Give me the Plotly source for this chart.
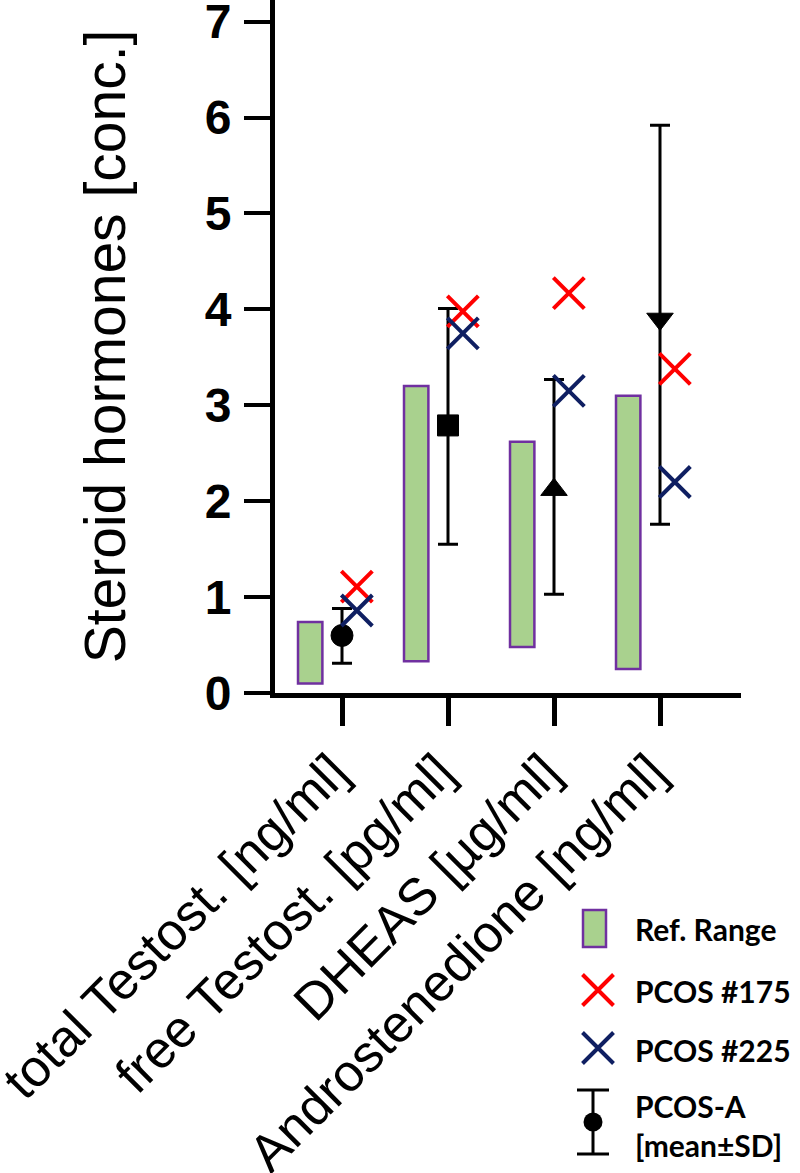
import plotly.graph_objects as go

categories = ["total Testost. [ng/ml]", "free Testost. [pg/ml]", "DHEAS [µg/ml]", "Androstenedione [ng/ml]"]
ref_low = [0.10, 0.33, 0.48, 0.25]
ref_high = [0.74, 3.20, 2.62, 3.10]
pcos_175 = [1.11, 3.98, 4.17, 3.38]
pcos_225 = [0.86, 3.75, 3.15, 2.20]
pcos_a_mean = [0.60, 2.79, 2.12, 3.90]
pcos_a_sd_high = [0.88, 4.01, 3.27, 5.92]
pcos_a_sd_low = [0.31, 1.55, 1.03, 1.76]
y_ticks = [0, 1, 2, 3, 4, 5, 6, 7]

legend_labels = ["Ref. Range", "PCOS #175", "PCOS #225", "PCOS-A<br>[mean±SD]"]

GREEN = "#a9d18e"
PURPLE = "#7030a0"
RED = "#ff0000"
NAVY = "#0f1f62"
MAIN_FONT = "Liberation Sans, Arial, sans-serif"
LEG_FONT = "Lato, Carlito, sans-serif"

W, H = 800, 1173
xpos = list(range(len(categories)))

fig = go.Figure()

# reference range bars
fig.add_trace(go.Bar(
    x=[p - 0.30 for p in xpos],
    base=ref_low,
    y=[h - l for h, l in zip(ref_high, ref_low)],
    width=0.23,
    marker=dict(color=GREEN, line=dict(color=PURPLE, width=2.5)),
    hoverinfo="skip",
))

# PCOS-A mean ± SD
fig.add_trace(go.Scatter(
    x=xpos,
    y=pcos_a_mean,
    mode="markers",
    marker=dict(symbol=["circle", "square", "triangle-up", "triangle-down"],
                size=[22, 21, 23, 23], color="black", opacity=1,
                line=dict(color="black", width=1)),
    error_y=dict(type="data", symmetric=False,
                 array=[h - m for h, m in zip(pcos_a_sd_high, pcos_a_mean)],
                 arrayminus=[m - l for m, l in zip(pcos_a_mean, pcos_a_sd_low)],
                 color="black", thickness=3, width=10),
))

# individual patients
fig.add_trace(go.Scatter(
    x=[p + 0.14 for p in xpos], y=pcos_175, mode="markers",
    marker=dict(symbol="x-thin", size=31, line=dict(color=RED, width=4)),
))
fig.add_trace(go.Scatter(
    x=[p + 0.14 for p in xpos], y=pcos_225, mode="markers",
    marker=dict(symbol="x-thin", size=31, line=dict(color=NAVY, width=4)),
))

# ---- custom legend on an auxiliary pixel-like axis ----
fig.add_trace(go.Bar(
    x=[594.5], base=[910], y=[37], width=23,
    marker=dict(color=GREEN, line=dict(color=PURPLE, width=2.5)),
    xaxis="x2", yaxis="y2", hoverinfo="skip",
))
fig.add_trace(go.Scatter(
    x=[598], y=[990], mode="markers", xaxis="x2", yaxis="y2",
    marker=dict(symbol="x-thin", size=31, line=dict(color=RED, width=4)),
))
fig.add_trace(go.Scatter(
    x=[598], y=[1048], mode="markers", xaxis="x2", yaxis="y2",
    marker=dict(symbol="x-thin", size=31, line=dict(color=NAVY, width=4)),
))
fig.add_trace(go.Scatter(
    x=[593], y=[1122], mode="markers", xaxis="x2", yaxis="y2",
    marker=dict(symbol="circle", size=19, color="black"),
    error_y=dict(type="data", array=[32], color="black", thickness=3, width=16),
))

legend_y = [929, 991, 1050, 1125]
for lab, ly in zip(legend_labels, legend_y):
    fig.add_annotation(x=633, y=ly, xref="x2", yref="y2", text=lab,
                       showarrow=False, xanchor="left", yanchor="middle", align="left",
                       font=dict(family=LEG_FONT, size=30, color="black", weight="bold"))

x_left, x_right = 275, 741
y_bottom = 693
px_per_cat = 106.0
x_range = [-(342 - x_left) / px_per_cat, -(342 - x_left) / px_per_cat + (x_right - x_left) / px_per_cat]

fig.update_layout(
    width=W, height=H,
    template="none",
    paper_bgcolor="white", plot_bgcolor="white",
    margin=dict(l=0, r=0, t=0, b=0),
    showlegend=False,
    barmode="overlay",
    xaxis=dict(
        domain=[x_left / W, x_right / W],
        range=x_range,
        tickmode="array", tickvals=xpos, ticktext=categories,
        tickangle=-45,
        ticks="outside", ticklen=28, tickwidth=5, tickcolor="black",
        showline=True, linewidth=5, linecolor="black",
        showgrid=False, zeroline=False, automargin=False,
        ticklabeloverflow="allow",
        ticklabelshift=-9, ticklabelstandoff=-5,
        tickfont=dict(family=MAIN_FONT, size=52, color="black"),
    ),
    yaxis=dict(
        domain=[(H - y_bottom) / H, 1],
        range=[0, 7.226],
        tickmode="array", tickvals=y_ticks,
        ticks="outside", ticklen=26, tickwidth=4, tickcolor="black",
        showline=True, linewidth=5, linecolor="black",
        showgrid=False, zeroline=False, automargin=False,
        ticklabeloverflow="allow", ticklabelstandoff=3,
        tickfont=dict(family=MAIN_FONT, size=48, color="black", weight="bold"),
        title=dict(text="Steroid hormones [conc.]", standoff=62,
                   font=dict(family=MAIN_FONT, size=57, color="black")),
    ),
    xaxis2=dict(domain=[0.7, 1.0], range=[560, 800], visible=False, fixedrange=True),
    yaxis2=dict(domain=[0, (H - 890) / H], range=[1173, 890], visible=False, fixedrange=True),
)

fig.write_html("out.html", config={"displayModeBar": False},
               post_script="document.body.style.margin='0px';")
